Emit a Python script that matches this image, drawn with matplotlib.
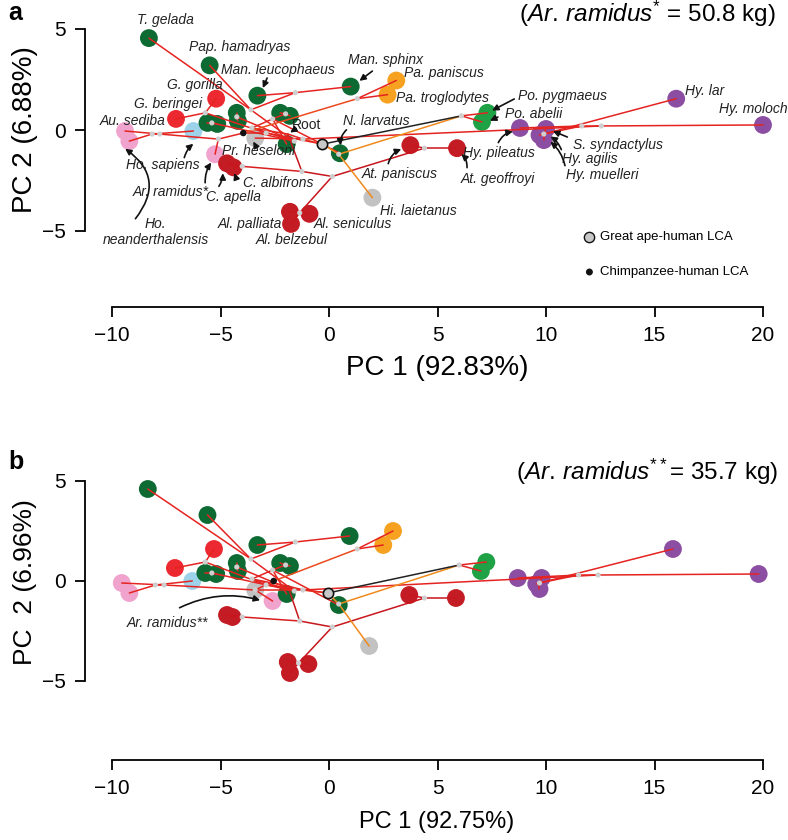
import matplotlib
matplotlib.use('Agg')
import matplotlib.pyplot as plt

plt.rcParams['font.family'] = ['Liberation Sans', 'DejaVu Sans']
plt.rcParams['mathtext.fontset'] = 'custom'
plt.rcParams['mathtext.rm'] = 'Liberation Sans'
plt.rcParams['mathtext.it'] = 'Liberation Sans:italic'

# ---------------- data ----------------
tip_names = ["T. gelada", "Pap. hamadryas", "Man. leucophaeus", "Man. sphinx",
             "Pa. paniscus", "Pa. troglodytes", "G. gorilla", "G. beringei",
             "Au. sediba", "Ho. neanderthalensis", "Ho. sapiens", "Ar. ramidus",
             "C. apella", "C. albifrons", "Pr. heseloni", "N. larvatus",
             "Hi. laietanus", "Al. palliata", "Al. seniculus", "Al. belzebul",
             "At. paniscus", "At. geoffroyi", "Po. pygmaeus", "Po. abelii",
             "Hy. pileatus", "S. syndactylus", "Hy. agilis", "Hy. muelleri",
             "Hy. lar", "Hy. moloch",
             "Cer1", "Cer2", "Cer3", "Cer4", "Col1", "Col2", "Col3"]
tip_group = ["owm", "owm", "owm", "owm", "pan", "pan", "gor", "gor",
             "hom", "hom", "sap", "hom", "nwm", "nwm", "fos", "owm",
             "fos", "nwm", "nwm", "nwm", "nwm", "nwm", "pon", "pon",
             "hyl", "hyl", "hyl", "hyl", "hyl", "hyl",
             "owm", "owm", "owm", "owm", "owm", "owm", "owm"]
tip_x_a = [-8.3, -5.5, -3.3, 1.0, 3.1, 2.7, -5.2, -7.05,
           -9.4, -9.2, -6.25, -5.25, -4.7, -4.4, -3.4, 0.5,
           2.0, -1.8, -0.9, -1.75, 3.75, 5.9, 7.3, 7.05,
           8.8, 10.0, 9.7, 9.9, 16.0, 20.0,
           -5.6, -5.15, -4.25, -4.2, -2.25, -1.8, -1.95]
tip_y_a = [4.55, 3.2, 1.7, 2.15, 2.45, 1.75, 1.55, 0.55,
           -0.05, -0.55, -0.05, -1.2, -1.65, -1.85, -0.4, -1.15,
           -3.35, -4.05, -4.15, -4.65, -0.75, -0.9, 0.85, 0.4,
           0.1, 0.05, -0.25, -0.5, 1.55, 0.25,
           0.35, 0.3, 0.85, 0.45, 0.85, 0.7, -0.7]
tip_x_b = [-8.35, -5.6, -3.3, 0.95, 2.95, 2.5, -5.3, -7.1,
           -9.55, -9.2, -6.3, -2.6, -4.7, -4.45, -3.4, 0.45,
           1.85, -1.9, -0.95, -1.8, 3.7, 5.85, 7.25, 7.0,
           8.7, 9.8, 9.55, 9.7, 15.85, 19.8,
           -5.7, -5.2, -4.25, -4.2, -2.25, -1.8, -1.95]
tip_y_b = [4.6, 3.3, 1.8, 2.25, 2.5, 1.8, 1.6, 0.65,
           -0.1, -0.6, 0.0, -1.0, -1.7, -1.8, -0.45, -1.2,
           -3.25, -4.05, -4.15, -4.6, -0.7, -0.85, 0.95, 0.5,
           0.15, 0.15, -0.15, -0.4, 1.6, 0.35,
           0.4, 0.35, 0.9, 0.5, 0.9, 0.75, -0.65]

group_colors = {"owm": "#0d6a33", "pan": "#f6a11f", "gor": "#ec2830",
                "hom": "#f0a3cd", "sap": "#9dd3ea", "nwm": "#c41c24",
                "pon": "#1fa146", "hyl": "#8b4ea2", "fos": "#c2c2c2"}

node_names = ["R", "PLAT", "CEB", "PL2", "ALN", "ATN", "OWM", "COL", "CN2",
              "CER", "CN3", "CN4", "PP", "MG", "HOM", "HYL", "HB", "HC",
              "GA", "HP", "PO", "AFR", "GOR", "CH", "PAN", "HMN", "AH", "HOMO"]
node_x_a = [-1.9, -1.25, -4.0, 0.15, -1.35, 4.4, -3.55, -2.6, -2.0,
            -1.6, -5.4, -4.25, -3.6, -1.55, -1.2, 12.55, 11.65, 9.9,
            -0.3, 0.45, 6.1, -2.9, -5.7, -3.95, 1.3, -5.1, -7.8, -8.15]
node_y_a = [-0.2, -2.05, -1.8, -2.3, -4.1, -0.9, 0.1, 0.55, 0.8,
            -0.55, 0.35, 0.65, 1.0, 1.85, -0.45, 0.2, 0.2, -0.2,
            -0.7, -1.2, 0.7, -0.15, 0.85, -0.15, 1.55, -0.45, -0.2, -0.2]
node_x_b = [-1.9, -1.35, -4.0, 0.15, -1.4, 4.4, -3.55, -2.6, -2.0,
            -1.6, -5.4, -4.25, -3.6, -1.55, -1.2, 12.4, 11.5, 9.7,
            -0.05, 0.45, 6.0, -2.9, -5.7, -2.55, 1.3, -3.4, -7.6, -8.0]
node_y_b = [-0.25, -2.0, -1.8, -2.3, -4.1, -0.85, 0.1, 0.55, 0.8,
            -0.5, 0.4, 0.7, 1.1, 1.95, -0.45, 0.3, 0.3, -0.1,
            -0.6, -1.15, 0.8, -0.2, 0.95, 0.0, 1.6, -0.45, -0.2, -0.2]

edge_parent = ["R", "PLAT", "PLAT", "CEB", "CEB", "PL2", "PL2", "ALN", "ALN", "ALN",
               "ATN", "ATN",
               "R", "OWM", "COL", "COL", "COL", "CN2", "CN2",
               "OWM", "CER", "CN3", "CN3", "CER", "CN4", "CN4", "CER",
               "PP", "PP", "PP", "MG", "MG",
               "R", "HOM", "HOM", "HYL", "HYL", "HB", "HB", "HC", "HC", "HC", "HC",
               "HOM", "GA", "HP", "HP", "GA", "PO", "PO",
               "GA", "AFR", "GOR", "GOR", "AFR", "CH", "PAN", "PAN",
               "CH", "HMN", "HMN", "AH", "AH", "HOMO", "HOMO"]
edge_child = ["PLAT", "CEB", "PL2", "C. apella", "C. albifrons", "ALN", "ATN",
              "Al. palliata", "Al. seniculus", "Al. belzebul",
              "At. paniscus", "At. geoffroyi",
              "OWM", "COL", "N. larvatus", "Col3", "CN2", "Col1", "Col2",
              "CER", "CN3", "Cer1", "Cer2", "CN4", "Cer3", "Cer4", "PP",
              "T. gelada", "Pap. hamadryas", "MG", "Man. leucophaeus", "Man. sphinx",
              "HOM", "Pr. heseloni", "HYL", "Hy. moloch", "HB", "Hy. pileatus", "HC",
              "Hy. lar", "S. syndactylus", "Hy. agilis", "Hy. muelleri",
              "GA", "HP", "Hi. laietanus", "PO", "PO", "Po. pygmaeus", "Po. abelii",
              "AFR", "GOR", "G. gorilla", "G. beringei", "CH", "PAN",
              "Pa. paniscus", "Pa. troglodytes",
              "HMN", "Ar. ramidus", "AH", "Au. sediba", "HOMO",
              "Ho. sapiens", "Ho. neanderthalensis"]
edge_color = ["#c8161d", "#d81e1e", "#c8161d", "#c8161d", "#c8161d", "#c8161d", "#c8161d",
              "#c8161d", "#c8161d", "#c8161d", "#c8161d", "#c8161d",
              "#e52421", "#e52421", "#e52421", "#e52421", "#e52421", "#e52421", "#e52421",
              "#e52421", "#e52421", "#e52421", "#e52421", "#e52421", "#e52421", "#e52421",
              "#e52421", "#e52421", "#e52421", "#e52421", "#e52421", "#e52421",
              "#e52421", "#e52421", "#e52421", "#e52421", "#e52421", "#e52421", "#e52421",
              "#e52421", "#e52421", "#e52421", "#e52421",
              "#e5521f", "#f08a1c", "#f08a1c", "#f08a1c", "#222222", "#e52421", "#e52421",
              "#e52421", "#e52421", "#e52421", "#e52421", "#e52421", "#ec4a1f",
              "#e52421", "#e52421",
              "#e52421", "#e52421", "#e52421", "#e52421", "#e52421", "#e52421", "#e52421"]

# labels (panel a)
lab_text = ["T. gelada", "Pap. hamadryas", "Man. leucophaeus", "Man. sphinx",
            "Pa. paniscus", "Pa. troglodytes", "G. gorilla", "G. beringei",
            "Au. sediba", "Ho. sapiens", "Ar. ramidus*", "C. apella", "C. albifrons",
            "Pr. heseloni", "Root", "N. larvatus", "Hi. laietanus", "Al. palliata",
            "Al. seniculus", "Al. belzebul", "At. paniscus", "At. geoffroyi",
            "Po. pygmaeus", "Po. abelii", "Hy. pileatus", "S. syndactylus",
            "Hy. agilis", "Hy. muelleri", "Hy. lar", "Hy. moloch", "Ho.\nneanderthalensis"]
lab_x = [-7.55, -4.1, -2.35, 2.6, 5.3, 5.25, -6.2, -7.4,
         -9.05, -7.65, -7.3, -4.4, -2.35, -3.25, -1.05, 2.2, 4.1, -3.65,
         1.1, -1.7, 3.25, 7.8, 10.75, 9.45, 7.85, 13.3, 12.0, 12.6, 17.3, 19.55, -8.0]
lab_y = [5.45, 4.1, 2.95, 3.45, 2.8, 1.6, 2.25, 1.3,
         0.45, -1.75, -3.05, -3.3, -2.6, -1.05, 0.25, 0.45, -4.0, -4.65,
         -4.65, -5.45, -2.2, -2.45, 1.7, 0.8, -1.15, -0.75, -1.45, -2.25, 1.95, 1.05, -5.05]
lab_italic = [True] * 14 + [False] + [True] * 16

arrow_tail = [(2.1, 3.0), (-2.8, 2.7), (-3.3, -0.95), (-1.4, 0.15), (0.9, 0.1),
              (-6.7, -1.5), (-5.7, -2.75), (-5.15, -2.9), (-4.1, -2.5), (-9.0, -4.5),
              (2.7, -1.8), (6.35, -2.0), (8.65, 1.6), (7.9, 0.7), (7.75, -0.75),
              (11.1, -0.4), (10.75, -1.1), (10.9, -1.9)]
arrow_head = [(1.3, 2.35), (-3.1, 1.95), (-3.55, -0.45), (-1.9, -0.2), (0.55, -0.9),
              (-6.15, -0.6), (-5.35, -1.5), (-4.9, -2.0), (-4.4, -2.0), (-9.5, -0.85),
              (3.45, -0.9), (6.0, -1.1), (7.4, 0.9), (7.3, 0.4), (8.6, -0.05),
              (10.2, 0.0), (10.1, -0.25), (10.1, -0.5)]
arrow_rad = [0.0, 0.0, 0.0, 0.0, 0.3, -0.2, -0.2, 0.2, -0.2, 0.55,
             -0.3, 0.3, 0.0, 0.0, -0.3, 0.0, 0.2, 0.2]

x_ticks = [-10, -5, 0, 5, 10, 15, 20]
y_ticks = [-5, 0, 5]

# ---------------- drawing ----------------
W, H = 788, 840
fig = plt.figure(figsize=(W / 100, H / 100), dpi=100)

XL = ((85 - 329) / 21.7, (788 - 329) / 21.7)
ax_a = fig.add_axes([85 / W, 1 - 307 / H, (W - 85) / W, 307 / H])
ax_a.set_xlim(*XL)
ax_a.set_ylim((130 - 307) / 20.2, 130 / 20.2)
ax_b = fig.add_axes([85 / W, 1 - 760 / H, (W - 85) / W, 320 / H])
ax_b.set_xlim(*XL)
ax_b.set_ylim((581 - 760) / 20, (581 - 440) / 20)


def draw_tree(ax, tx, ty, nx, ny):
    pos = {}
    for n, x, y in zip(tip_names, tx, ty):
        pos[n] = (x, y)
    for n, x, y in zip(node_names, nx, ny):
        pos[n] = (x, y)
    ax.scatter(tx, ty, s=165, c=[group_colors[g] for g in tip_group],
               edgecolors='none', zorder=2)
    for p, c, col in zip(edge_parent, edge_child, edge_color):
        (x0, y0), (x1, y1) = pos[p], pos[c]
        ax.plot([x0, x1], [y0, y1], color=col, lw=1.1, zorder=3,
                solid_capstyle='round')
    inner = [n for n in node_names if n not in ("GA", "CH", "R")]
    ax.scatter([pos[n][0] for n in inner], [pos[n][1] for n in inner], s=14,
               c='#cfcfcf', edgecolors='none', zorder=4)
    ax.scatter([pos["GA"][0]], [pos["GA"][1]], s=55, c='#c8c8c8',
               edgecolors='#111111', linewidths=1.2, zorder=5)
    ax.scatter([pos["CH"][0]], [pos["CH"][1]], s=22, c='#111111',
               edgecolors='none', zorder=5)


def style_axes(ax):
    for s in ("top", "right"):
        ax.spines[s].set_visible(False)
    ax.spines["left"].set_bounds(-5, 5)
    ax.spines["bottom"].set_bounds(-10, 20)
    ax.spines["left"].set_linewidth(1.3)
    ax.spines["bottom"].set_linewidth(1.3)
    ax.set_xticks(x_ticks)
    ax.set_yticks(y_ticks)
    ax.tick_params(length=7.5, width=1.3, labelsize=15, pad=6)


draw_tree(ax_a, tip_x_a, tip_y_a, node_x_a, node_y_a)
draw_tree(ax_b, tip_x_b, tip_y_b, node_x_b, node_y_b)
style_axes(ax_a)
style_axes(ax_b)

# labels panel a
for t, x, y, it in zip(lab_text, lab_x, lab_y, lab_italic):
    ax_a.text(x, y, t, fontsize=10, style='italic' if it else 'normal',
              ha='center', va='center', color='#222222', zorder=6,
              linespacing=1.2)
for (tx_, ty_), (hx, hy), rad in zip(arrow_tail, arrow_head, arrow_rad):
    ax_a.annotate('', xy=(hx, hy), xytext=(tx_, ty_),
                  arrowprops=dict(arrowstyle='-|>', color='#111111', lw=1.2,
                                  mutation_scale=9,
                                  connectionstyle=f'arc3,rad={rad}'),
                  zorder=6)

# legend panel a
ax_a.scatter([12.0], [-5.3], s=55, c='#c8c8c8', edgecolors='#111111', linewidths=1.0, zorder=6)
ax_a.scatter([12.0], [-7.03], s=25, c='#111111', edgecolors='none', zorder=6)
ax_a.text(12.5, -5.3, "Great ape-human LCA", fontsize=9.5, va='center', ha='left')
ax_a.text(12.5, -7.03, "Chimpanzee-human LCA", fontsize=9.5, va='center', ha='left')

# panel b label
ax_b.text(-7.45, -2.1, "Ar. ramidus**", fontsize=10, style='italic', ha='center',
          va='center', color='#222222')
ax_b.annotate('', xy=(-3.05, -1.0), xytext=(-7.0, -1.4),
              arrowprops=dict(arrowstyle='-|>', color='#111111', lw=1.2,
                              mutation_scale=9, connectionstyle='arc3,rad=-0.2'))

# titles
ax_a.text(20.6, 5.75, r"($\mathit{Ar.\,ramidus}^{*}$ = 50.8 kg)", fontsize=17.5,
          ha='right', va='center')
ax_b.text(20.7, 5.45, r"($\mathit{Ar.\,ramidus}^{**}$= 35.7 kg)", fontsize=17.5,
          ha='right', va='center')

# axis titles
fig.text(437 / W, 1 - 368 / H, "PC 1 (92.83%)", fontsize=20, ha='center', va='center')
fig.text(25 / W, 1 - 130 / H, "PC 2 (6.88%)", fontsize=20, ha='center', va='center', rotation=90)
fig.text(437 / W, 1 - 822 / H, "PC 1 (92.75%)", fontsize=17, ha='center', va='center')
fig.text(25 / W, 1 - 582 / H, "PC  2 (6.96%)", fontsize=19, ha='center', va='center', rotation=90)
fig.text(8 / W, 1 - 13 / H, "a", fontsize=18, fontweight='bold', ha='left', va='center')
fig.text(8 / W, 1 - 462 / H, "b", fontsize=18, fontweight='bold', ha='left', va='center')

fig.savefig("out.png", dpi=100)
